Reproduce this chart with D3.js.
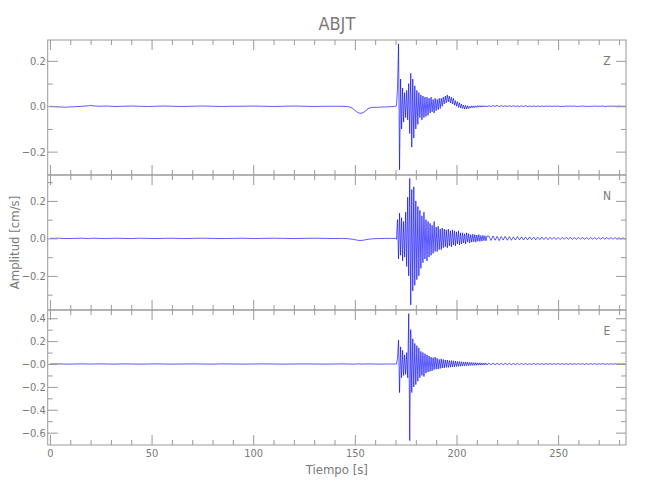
<!DOCTYPE html>
<html><head><meta charset="utf-8">
<script src="https://cdn.jsdelivr.net/npm/d3@7"></script>
<style>
body{margin:0;background:#fff;}
svg text{font-family:"Liberation Sans Narrow","DejaVu Sans Condensed","Liberation Sans",sans-serif;fill:#7a7a7a;}
.tick text{font-size:11px;}
</style></head><body>
<svg id="chart" width="650" height="500"></svg>
<script>
// ---------------- DATA ----------------
const title = "ABJT";
const xLabel = "Tiempo [s]";
const yLabel = "Amplitud [cm/s]";
const channels = ["Z", "N", "E"];

const xDomain = [-1.1, 283.4];
const xMajorTicks = [0, 50, 100, 150, 200, 250];
const xMinorTicks = [10,20,30,40,60,70,80,90,110,120,130,140,160,170,180,190,210,220,230,240,260,270,280];
const xTickLabels = ["0", "50", "100", "150", "200", "250"];

const zDomain = [-0.303, 0.292];
const nDomain = [-0.382, 0.338];
const eDomain = [-0.708, 0.472];
const zMajorTicks = [-0.2, 0, 0.2];
const zMinorTicks = [-0.1, 0.1];
const zTickLabels = ["\u22120.2", "0.0", "0.2"];
const nMajorTicks = [-0.2, 0, 0.2];
const nMinorTicks = [-0.3, -0.1, 0.1, 0.3];
const nTickLabels = ["\u22120.2", "0.0", "0.2"];
const eMajorTicks = [-0.6, -0.4, -0.2, 0, 0.2, 0.4];
const eMinorTicks = [-0.5, -0.3, -0.1, 0.1, 0.3];
const eTickLabels = ["\u22120.6", "\u22120.4", "\u22120.2", "\u22120.0", "0.2", "0.4"];

// pre-event samples (time in s)
const quietTimes = [0,4,8,12,16,19,20,21,24,28,32,36,40,44,48,52,56,60,65,70,75,80,85,90,95,100,105,110,115,120,125,130,135,140,144,147,149,151,152,153,154,155,157,159,162,165,168];
const zQuiet = [0.0,-0.003,-0.004,-0.002,0.0,0.002,0.004,0.002,0.0,0.001,-0.001,0.0,0.001,0.0,-0.001,0.0,0.001,0.0,-0.001,0.0,0.001,0.0,-0.001,0.0,0.0,0.001,0.0,-0.001,0.0,0.001,0.0,-0.001,0.0,0.0,0.0,-0.002,-0.01,-0.025,-0.03,-0.031,-0.029,-0.022,-0.008,-0.005,-0.004,-0.003,-0.002];
const nQuiet = [0.0,0.001,-0.001,0.0,0.001,-0.001,0.0,0.001,0.0,-0.001,0.001,0.0,-0.001,0.001,0.0,-0.001,0.0,0.001,-0.001,0.0,0.001,0.0,-0.001,0.0,0.001,-0.001,0.0,0.001,0.0,-0.001,0.0,0.001,0.0,-0.001,0.0,-0.002,-0.005,-0.009,-0.011,-0.011,-0.01,-0.008,-0.004,-0.002,-0.001,0.0,0.0];
const eQuiet = [0.0,0.001,-0.001,0.0,0.001,0.0,-0.001,0.0,0.001,0.0,-0.001,0.001,0.0,-0.001,0.0,0.001,0.0,-0.001,0.0,0.001,0.0,-0.001,0.001,0.0,-0.001,0.0,0.001,0.0,-0.001,0.0,0.001,0.0,-0.001,0.0,0.001,0.0,-0.001,0.0,0.001,0.0,-0.001,0.0,0.001,0.0,-0.001,0.0,0.0];

// strong-motion samples, start 170 s, every 0.5 s
const burstStart = 170, burstStep = 0.5;
const zBurst = [0.0,0.002,0.08,0.275,-0.28,0.12,-0.10,0.08,-0.07,0.06,
-0.05,0.07,-0.06,0.10,-0.12,0.145,-0.18,0.12,-0.14,0.09,
-0.10,0.07,-0.08,0.06,-0.05,0.05,-0.06,0.045,-0.05,0.04,
-0.045,0.04,-0.04,0.035,-0.03,0.04,-0.025,0.03,-0.03,0.035,
-0.02,0.03,-0.015,0.035,-0.01,0.035,0.0,0.04,0.01,0.045,
0.015,0.05,0.02,0.045,0.015,0.04,0.01,0.035,0.005,0.025,
0.0,0.02,-0.005,0.015,-0.008,0.01,-0.01,0.005,-0.012,0.004,
-0.012,0.002,-0.01,0.0,-0.008,0.002,-0.007,0.002,-0.006,0.002,
-0.005,0.003,-0.004,0.003,-0.004,0.003,-0.003,0.003,-0.003,0.002,
-0.002];
const nBurst = [0.0,-0.005,0.10,-0.11,0.135,-0.09,0.11,-0.12,0.09,-0.10,
0.14,-0.15,0.22,-0.2,0.32,-0.355,0.26,-0.28,0.275,-0.25,
0.2,-0.22,0.17,-0.2,0.15,-0.16,0.12,-0.13,0.14,-0.11,
0.1,-0.12,0.09,-0.1,0.08,-0.09,0.07,-0.08,0.09,-0.07,
0.06,-0.07,0.065,-0.06,0.05,-0.06,0.055,-0.05,0.05,-0.045,
0.045,-0.05,0.05,-0.04,0.04,-0.045,0.045,-0.035,0.04,-0.04,
0.035,-0.03,0.04,-0.035,0.03,-0.03,0.03,-0.025,0.025,-0.03,
0.03,-0.02,0.025,-0.025,0.02,-0.02,0.022,-0.018,0.02,-0.02,
0.018,-0.015,0.02,-0.016,0.015,-0.015,0.016,-0.012,0.014,-0.013,
0.012];
const eBurst = [0.0,0.0,0.05,0.21,-0.25,0.15,-0.12,0.12,-0.1,0.08,
-0.09,0.1,-0.12,0.44,-0.67,0.3,-0.25,0.22,-0.2,0.18,
-0.18,0.16,-0.15,0.14,-0.12,0.11,-0.1,0.1,-0.11,0.09,
-0.08,0.08,-0.07,0.07,-0.065,0.06,-0.06,0.055,-0.05,0.06,
-0.045,0.05,-0.045,0.04,-0.04,0.045,-0.035,0.04,-0.035,0.035,
-0.03,0.035,-0.03,0.03,-0.028,0.03,-0.025,0.028,-0.025,0.025,
-0.022,0.022,-0.02,0.022,-0.02,0.02,-0.018,0.018,-0.016,0.018,
-0.015,0.016,-0.014,0.015,-0.013,0.014,-0.012,0.012,-0.012,0.012,
-0.011,0.01,-0.01,0.01,-0.01,0.009,-0.009,0.009,-0.008,0.008,
-0.008];

// coda samples, start 216 s, every 1 s
const tailStart = 216, tailStep = 1;
const zTail = [0.002,-0.001,0.003,-0.001,0.004,-0.002,0.003,-0.001,0.002,-0.001,
0.002,-0.001,0.002,-0.001,0.001,-0.001,0.002,-0.001,0.002,-0.001,
0.001,-0.001,0.001,-0.001,0.001,-0.001,0.001,-0.001,0.001,0.0,
0.001,-0.001,0.001,0.0,0.001,-0.001,0.0,-0.001,0.001,0.0,
0.001,0.0,0.001,-0.001,0.0,0.0,0.001,0.0,0.0,-0.001,
0.0,0.0,0.001,0.0,0.0,0.0,0.001,-0.001,0.0,0.0,
0.001,0.0,0.0,0.0,0.001,0.0,0.0,0.0,0.0];
const nTail = [0.012,-0.011,0.013,-0.01,0.011,-0.012,0.01,-0.009,0.011,-0.01,
0.009,-0.01,0.008,-0.009,0.01,-0.008,0.008,-0.009,0.007,-0.008,
0.008,-0.007,0.007,-0.008,0.006,-0.007,0.007,-0.006,0.006,-0.007,
0.006,-0.005,0.006,-0.006,0.005,-0.006,0.005,-0.005,0.006,-0.005,
0.005,-0.005,0.004,-0.005,0.005,-0.004,0.005,-0.005,0.004,-0.005,
0.005,-0.004,0.004,-0.005,0.004,-0.004,0.005,-0.004,0.004,-0.004,
0.004,-0.005,0.004,-0.004,0.004,-0.004,0.003,-0.004,0.004];
const eTail = [0.008,-0.007,0.008,-0.007,0.007,-0.007,0.006,-0.007,0.007,-0.006,
0.006,-0.006,0.005,-0.006,0.006,-0.005,0.005,-0.005,0.005,-0.005,
0.004,-0.005,0.005,-0.004,0.004,-0.004,0.004,-0.004,0.004,-0.003,
0.004,-0.004,0.003,-0.003,0.004,-0.003,0.003,-0.003,0.003,-0.003,
0.003,-0.003,0.003,-0.003,0.003,-0.002,0.003,-0.003,0.002,-0.003,
0.003,-0.002,0.002,-0.003,0.002,-0.002,0.003,-0.002,0.002,-0.002,
0.002,-0.002,0.002,-0.002,0.002,-0.002,0.002,-0.002,0.002];

// ---------------- DRAW ----------------
const svg = d3.select("#chart");
const left = 47.7, right = 626;
const panelTops = [40, 175, 310], panelH = 135;
const axisColor = "#999";

const x = d3.scaleLinear().domain(xDomain).range([left, right]);

function buildSeries(quiet, burst, tail) {
  const pts = quietTimes.map((t, i) => [t, quiet[i]]);
  burst.forEach((v, i) => pts.push([burstStart + i * burstStep, v]));
  tail.forEach((v, i) => pts.push([tailStart + i * tailStep, v]));
  return pts;
}

const panels = [
  {name: "Z", domain: zDomain, major: zMajorTicks, minor: zMinorTicks, labels: zTickLabels, data: buildSeries(zQuiet, zBurst, zTail)},
  {name: "N", domain: nDomain, major: nMajorTicks, minor: nMinorTicks, labels: nTickLabels, data: buildSeries(nQuiet, nBurst, nTail)},
  {name: "E", domain: eDomain, major: eMajorTicks, minor: eMinorTicks, labels: eTickLabels, data: buildSeries(eQuiet, eBurst, eTail)}
];

const defs = svg.append("defs");

panels.forEach((p, k) => {
  const top = panelTops[k], bottom = top + panelH;
  const y = d3.scaleLinear().domain(p.domain).range([bottom, top]);
  const g = svg.append("g");

  defs.append("clipPath").attr("id", "clip" + k)
    .append("rect").attr("x", left).attr("y", top).attr("width", right - left).attr("height", panelH);

  // trace
  const line = d3.line().x(d => x(d[0])).y(d => y(d[1]));
  g.append("path").datum(p.data)
    .attr("clip-path", `url(#clip${k})`)
    .attr("d", line)
    .attr("fill", "none")
    .attr("stroke", "#0000ff")
    .attr("stroke-width", 0.65)
    .attr("stroke-linejoin", "round");

  const ax = (gen, tx, ty) => {
    const a = g.append("g").attr("transform", `translate(${tx},${ty})`).attr("color", axisColor).call(gen);
    a.select(".domain").remove();
    return a;
  };
  // left
  ax(d3.axisLeft(y).tickValues(p.major).tickFormat((d, i) => p.labels[i]).tickSize(-10).tickSizeOuter(0).tickPadding(2), left, 0);
  ax(d3.axisLeft(y).tickValues(p.minor).tickFormat("").tickSize(-5).tickSizeOuter(0), left, 0);
  // right
  ax(d3.axisRight(y).tickValues(p.major).tickFormat("").tickSize(-10).tickSizeOuter(0), right, 0);
  ax(d3.axisRight(y).tickValues(p.minor).tickFormat("").tickSize(-5).tickSizeOuter(0), right, 0);
  // top
  ax(d3.axisTop(x).tickValues(xMajorTicks).tickFormat("").tickSize(-10).tickSizeOuter(0), 0, top);
  ax(d3.axisTop(x).tickValues(xMinorTicks).tickFormat("").tickSize(-5).tickSizeOuter(0), 0, top);
  // bottom
  const isLast = k === panels.length - 1;
  ax(d3.axisBottom(x).tickValues(xMajorTicks)
      .tickFormat((d, i) => isLast ? xTickLabels[i] : "")
      .tickSize(-10).tickSizeOuter(0).tickPadding(4), 0, bottom);
  ax(d3.axisBottom(x).tickValues(xMinorTicks).tickFormat("").tickSize(-5).tickSizeOuter(0), 0, bottom);

  // frame
  g.append("rect").attr("x", left).attr("y", top).attr("width", right - left).attr("height", panelH)
    .attr("fill", "none").attr("stroke", axisColor).attr("stroke-width", 1);

  // channel label
  g.append("text").attr("x", 607).attr("y", top + 25).attr("text-anchor", "middle")
    .attr("font-size", 12).text(channels[k]);
});

// titles
svg.append("text").attr("x", (left + right) / 2).attr("y", 30).attr("text-anchor", "middle")
  .attr("font-size", 18).text(title);
svg.append("text").attr("x", (left + right) / 2).attr("y", 474).attr("text-anchor", "middle")
  .attr("font-size", 13).text(xLabel);
svg.append("text").attr("transform", `translate(19,${(panelTops[0] + panelTops[2] + panelH) / 2}) rotate(-90)`)
  .attr("text-anchor", "middle").attr("font-size", 13).text(yLabel);
</script>
</body></html>
